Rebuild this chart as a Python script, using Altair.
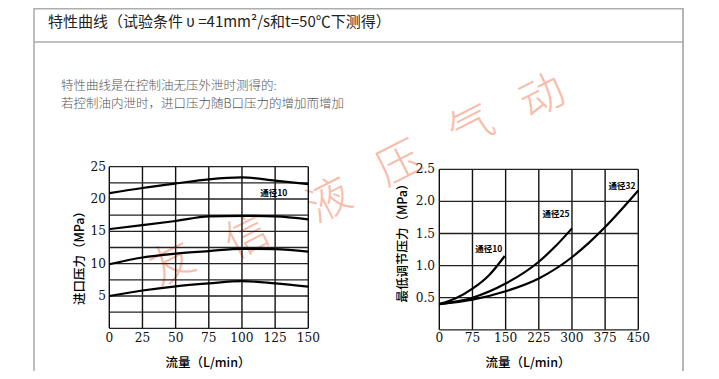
import altair as alt
import pandas as pd

# ---------------- data ----------------
# Left chart: 进口压力 vs 流量 (通径10)
left_x = [0, 25, 50, 75, 100, 125, 150]
left_c1 = [20.9, 21.7, 22.4, 23.05, 23.35, 22.85, 22.3]
left_c2 = [15.35, 15.95, 16.6, 17.3, 17.4, 17.3, 16.85]
left_c3 = [9.9, 10.95, 11.55, 11.95, 12.3, 12.25, 11.85]
left_c4 = [5.0, 5.85, 6.5, 6.95, 7.3, 6.95, 6.45]

# Right chart: 最低调节压力 vs 流量
r10_x = [0, 37.5, 75, 112.5, 148]
r10_y = [0.40, 0.49, 0.64, 0.85, 1.15]
r25_x = [0, 75, 150, 225, 262.5, 300]
r25_y = [0.40, 0.50, 0.72, 1.06, 1.30, 1.58]
r32_x = [0, 75, 150, 225, 300, 337.5, 375, 450]
r32_y = [0.40, 0.47, 0.60, 0.80, 1.13, 1.35, 1.60, 2.17]

left_xticks = [0, 25, 50, 75, 100, 125, 150]
left_xlabels = ["0", "25", "50", "75", "100", "125", "150"]
left_yticks = [5, 10, 15, 20, 25]
left_ygrid = [0, 2.5, 5, 7.5, 10, 12.5, 15, 17.5, 20, 22.5, 25]

right_xticks = [0, 75, 150, 225, 300, 375, 450]
right_yticks = [0.5, 1.0, 1.5, 2.0, 2.5]
right_ylabels = ["0.5", "1.0", "1.5", "2.0", "2.5"]
right_ygrid = [0, 0.5, 1.0, 1.5, 2.0, 2.5]

left_label = {"text": "通径10", "x": 124, "y": 20.9}
right_labels = ["通径10", "通径25", "通径32"]
right_label_x = [112, 264, 413]
right_label_y = [1.26, 1.80, 2.24]

title_text = "特性曲线（试验条件 υ =41mm²/s和t=50℃下测得）"
note_lines = ["特性曲线是在控制油无压外泄时测得的:",
              "若控制油内泄时，进口压力随B口压力的增加而增加"]
watermark_chars = ["友", "信", "液", "压", "气", "动"]

# ---------------- layout (pixels inside the canvas) ----------------
W, H = 703, 363
wm_px = [165, 240, 322, 392, 464, 535]
wm_py = [257, 230, 194, 157, 120, 90]

LX = alt.Scale(domain=[0, 150], range=[101.3, 300.3], nice=False, zero=False)
LY = alt.Scale(domain=[0, 25], range=[320.3, 158.7], nice=False, zero=False)
RX = alt.Scale(domain=[0, 450], range=[431.3, 630.3], nice=False, zero=False)
RY = alt.Scale(domain=[0, 2.5], range=[321.8, 161.3], nice=False, zero=False)

SERIF = "DejaVu Serif Condensed, Liberation Serif, serif"
CJK = "Noto Sans CJK SC"


def panel(xs, ys, xdom, ydom, xgrid, ygrid, curves, xtick_vals, xtick_lab,
          ytick_vals, ytick_lab, ylab_x, labels):
    vgrid = pd.DataFrame({"x": xgrid, "lo": ydom[0], "hi": ydom[1]})
    hgrid = pd.DataFrame({"y": ygrid, "lo": xdom[0], "hi": xdom[1]})
    layers = [
        alt.Chart(vgrid).mark_rule(color="#111", strokeWidth=1.4).encode(
            x=alt.X("x:Q", scale=xs, axis=None),
            y=alt.Y("lo:Q", scale=ys, axis=None), y2="hi:Q"),
        alt.Chart(hgrid).mark_rule(color="#222", strokeWidth=1.3).encode(
            y=alt.Y("y:Q", scale=ys, axis=None),
            x=alt.X("lo:Q", scale=xs, axis=None), x2="hi:Q"),
    ]
    for cx, cy in curves:
        df = pd.DataFrame({"x": cx, "y": cy})
        layers.append(alt.Chart(df).mark_line(color="#000", strokeWidth=2.2,
                                              interpolate="monotone").encode(
            x=alt.X("x:Q", scale=xs, axis=None),
            y=alt.Y("y:Q", scale=ys, axis=None)))
    xt = pd.DataFrame({"v": xtick_vals, "t": xtick_lab})
    layers.append(alt.Chart(xt).mark_text(font=SERIF, fontSize=13.5, color="#111",
                                          baseline="middle", align="center").encode(
        x=alt.X("v:Q", scale=xs, axis=None), y=alt.value(330), text="t:N"))
    yt = pd.DataFrame({"v": ytick_vals, "t": ytick_lab})
    layers.append(alt.Chart(yt).mark_text(font=SERIF, fontSize=13.5, color="#111",
                                          baseline="middle", align="right").encode(
        y=alt.Y("v:Q", scale=ys, axis=None), x=alt.value(ylab_x), text="t:N"))
    lb = pd.DataFrame(labels)
    layers.append(alt.Chart(lb).mark_text(font=CJK, fontSize=8.5, fontWeight="bold",
                                          color="#000", baseline="middle",
                                          align="center").encode(
        x=alt.X("x:Q", scale=xs, axis=None), y=alt.Y("y:Q", scale=ys, axis=None),
        text="text:N"))
    return alt.layer(*layers)


left = panel(LX, LY, [0, 150], [0, 25], left_xticks, left_ygrid,
             [(left_x, left_c1), (left_x, left_c2), (left_x, left_c3), (left_x, left_c4)],
             left_xticks, left_xlabels, left_yticks, [str(v) for v in left_yticks], 98,
             {"text": [left_label["text"]], "x": [left_label["x"]], "y": [left_label["y"]]})

right = panel(RX, RY, [0, 450], [0, 2.5], right_xticks, right_ygrid,
              [(r10_x, r10_y), (r25_x, r25_y), (r32_x, r32_y)],
              right_xticks, [str(v) for v in right_xticks], right_yticks, right_ylabels, 427,
              {"text": right_labels, "x": right_label_x, "y": right_label_y})

one = pd.DataFrame({"a": [0]})

border_color = "#adadad"
decor = [
    alt.Chart(one).mark_rule(color=border_color, strokeWidth=1.6).encode(
        x=alt.value(26), y=alt.value(0), y2=alt.value(H)),
    alt.Chart(one).mark_rule(color=border_color, strokeWidth=1.8).encode(
        x=alt.value(675), y=alt.value(0), y2=alt.value(H)),
    alt.Chart(one).mark_rule(color=border_color, strokeWidth=1.6).encode(
        x=alt.value(26), x2=alt.value(675), y=alt.value(0.8)),
    alt.Chart(one).mark_rule(color=border_color, strokeWidth=1.6).encode(
        x=alt.value(26), x2=alt.value(675), y=alt.value(34)),
    alt.Chart(pd.DataFrame({"t": [title_text]})).mark_text(
        font=CJK, fontSize=15, color="#222", align="left", baseline="middle").encode(
        x=alt.value(40), y=alt.value(14), text="t:N"),
    alt.Chart(pd.DataFrame({"t": note_lines, "py": [78, 96]})).mark_text(
        font=CJK, fontSize=12.5, color="#555", align="left", baseline="middle",
        fontWeight=300).encode(
        x=alt.value(53), y=alt.Y("py:Q", scale=None, axis=None), text="t:N"),
    alt.Chart(pd.DataFrame({"t": watermark_chars, "px": wm_px, "py": wm_py})).mark_text(
        font=CJK, fontSize=44, color="#f6a690", opacity=0.75, fontWeight=300,
        angle=333, align="center", baseline="middle").encode(
        x=alt.X("px:Q", scale=None, axis=None), y=alt.Y("py:Q", scale=None, axis=None),
        text="t:N"),
    # axis titles
    alt.Chart(pd.DataFrame({"t": ["流量（L/min）", "流量（L/min）"], "px": [200, 520]})).mark_text(
        font=CJK, fontSize=12.5, color="#000", align="center", baseline="middle",
        fontWeight=500).encode(
        x=alt.X("px:Q", scale=None, axis=None), y=alt.value(355), text="t:N"),
    alt.Chart(pd.DataFrame({"t": ["进口压力（MPa）", "最低调节压力（MPa）"],
                            "px": [72, 395], "py": [247, 232]})).mark_text(
        font=CJK, fontSize=12.5, color="#000", align="center", baseline="middle",
        angle=270, fontWeight=500).encode(
        x=alt.X("px:Q", scale=None, axis=None), y=alt.Y("py:Q", scale=None, axis=None),
        text="t:N"),
]

chart = alt.layer(*decor, left, right).resolve_scale(
    x="independent", y="independent"
).properties(
    width=W, height=H, autosize=alt.AutoSizeParams(type="none"), padding=0,
    background="white"
).configure_view(stroke=None)

chart.save("out.html", embed_options={"renderer": "svg", "actions": False})
